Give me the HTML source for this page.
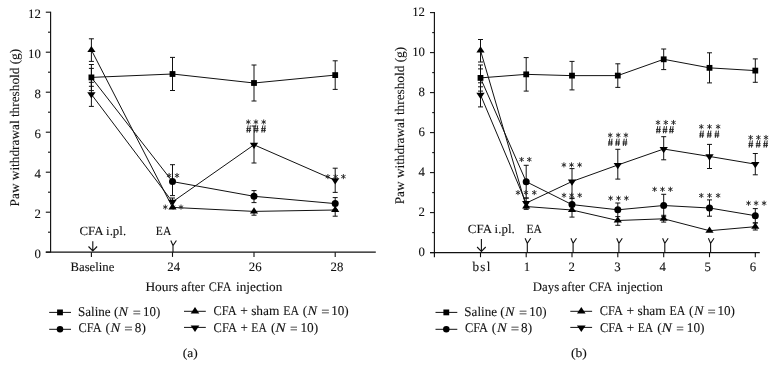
<!DOCTYPE html><html><head><meta charset="utf-8"><style>html,body{margin:0;padding:0;background:#fff;}svg{display:block;filter:grayscale(1);}text{text-rendering:geometricPrecision;font-family:"Liberation Serif",serif;fill:#111;stroke:#111;stroke-width:0.1px;}</style></head><body>
<svg width="776" height="368" viewBox="0 0 776 368">
<rect width="776" height="368" fill="#fff"/>
<line x1="50.60" y1="11.70" x2="50.60" y2="252.20" stroke="#111" stroke-width="1.15"/>
<line x1="45.80" y1="252.20" x2="50.60" y2="252.20" stroke="#111" stroke-width="1.1"/>
<line x1="48.00" y1="232.20" x2="50.60" y2="232.20" stroke="#111" stroke-width="1.1"/>
<line x1="45.80" y1="212.20" x2="50.60" y2="212.20" stroke="#111" stroke-width="1.1"/>
<line x1="48.00" y1="192.20" x2="50.60" y2="192.20" stroke="#111" stroke-width="1.1"/>
<line x1="45.80" y1="172.20" x2="50.60" y2="172.20" stroke="#111" stroke-width="1.1"/>
<line x1="48.00" y1="152.20" x2="50.60" y2="152.20" stroke="#111" stroke-width="1.1"/>
<line x1="45.80" y1="132.20" x2="50.60" y2="132.20" stroke="#111" stroke-width="1.1"/>
<line x1="48.00" y1="112.20" x2="50.60" y2="112.20" stroke="#111" stroke-width="1.1"/>
<line x1="45.80" y1="92.20" x2="50.60" y2="92.20" stroke="#111" stroke-width="1.1"/>
<line x1="48.00" y1="72.20" x2="50.60" y2="72.20" stroke="#111" stroke-width="1.1"/>
<line x1="45.80" y1="52.20" x2="50.60" y2="52.20" stroke="#111" stroke-width="1.1"/>
<line x1="48.00" y1="32.20" x2="50.60" y2="32.20" stroke="#111" stroke-width="1.1"/>
<line x1="45.80" y1="12.20" x2="50.60" y2="12.20" stroke="#111" stroke-width="1.1"/>
<text x="40.80" y="257.70" font-size="12.8" text-anchor="end">0</text>
<text x="40.80" y="217.70" font-size="12.8" text-anchor="end">2</text>
<text x="40.80" y="177.70" font-size="12.8" text-anchor="end">4</text>
<text x="40.80" y="137.70" font-size="12.8" text-anchor="end">6</text>
<text x="40.80" y="97.70" font-size="12.8" text-anchor="end">8</text>
<text x="40.80" y="57.70" font-size="12.8" text-anchor="end">10</text>
<text x="40.80" y="17.70" font-size="12.8" text-anchor="end">12</text>
<line x1="45.80" y1="252.20" x2="375.80" y2="252.20" stroke="#111" stroke-width="1.2"/>
<line x1="91.40" y1="252.20" x2="91.40" y2="256.90" stroke="#111" stroke-width="1.1"/>
<line x1="172.50" y1="252.20" x2="172.50" y2="256.90" stroke="#111" stroke-width="1.1"/>
<line x1="254.00" y1="252.20" x2="254.00" y2="256.90" stroke="#111" stroke-width="1.1"/>
<line x1="335.20" y1="252.20" x2="335.20" y2="256.90" stroke="#111" stroke-width="1.1"/>
<text x="70.53" y="271.40" font-size="12.8" textLength="43.81" lengthAdjust="spacingAndGlyphs">Baseline</text>
<text x="173.70" y="271.40" font-size="12.8" text-anchor="middle">24</text>
<text x="255.20" y="271.40" font-size="12.8" text-anchor="middle">26</text>
<text x="337.00" y="271.40" font-size="12.8" text-anchor="middle">28</text>
<text x="145.41" y="291.30" font-size="13" textLength="32.87" lengthAdjust="spacingAndGlyphs">Hours</text>
<text x="181.25" y="291.30" font-size="13" textLength="23.46" lengthAdjust="spacingAndGlyphs">after</text>
<text x="208.72" y="291.30" font-size="13" textLength="22.66" lengthAdjust="spacingAndGlyphs">CFA</text>
<text x="236.12" y="291.30" font-size="13" textLength="46.18" lengthAdjust="spacingAndGlyphs">injection</text>
<text transform="translate(18.6,127.6) rotate(-90)" font-size="13.2" text-anchor="middle" textLength="157.6" lengthAdjust="spacingAndGlyphs">Paw withdrawal threshold (g)</text>
<text x="79.49" y="234.80" font-size="12.5" textLength="46.63" lengthAdjust="spacingAndGlyphs">CFA i.pl.</text>
<text x="155.87" y="234.80" font-size="12.5" textLength="15.42" lengthAdjust="spacingAndGlyphs">EA</text>
<path d="M92.80,241.2 V251.0 M88.50,246.50 L92.80,251.0 L97.10,246.50" fill="none" stroke="#111" stroke-width="1.1"/>
<path d="M170.80,240.5 L173.00,245.5 L176.40,240.5 M173.00,245.5 V252.2" fill="none" stroke="#111" stroke-width="1.1"/>
<line x1="91.40" y1="68.40" x2="91.40" y2="86.30" stroke="#111" stroke-width="1.0"/>
<line x1="88.90" y1="68.40" x2="93.90" y2="68.40" stroke="#111" stroke-width="1.0"/>
<line x1="88.90" y1="86.30" x2="93.90" y2="86.30" stroke="#111" stroke-width="1.0"/>
<line x1="172.50" y1="57.40" x2="172.50" y2="90.50" stroke="#111" stroke-width="1.0"/>
<line x1="170.00" y1="57.40" x2="175.00" y2="57.40" stroke="#111" stroke-width="1.0"/>
<line x1="170.00" y1="90.50" x2="175.00" y2="90.50" stroke="#111" stroke-width="1.0"/>
<line x1="254.00" y1="65.00" x2="254.00" y2="101.00" stroke="#111" stroke-width="1.0"/>
<line x1="251.50" y1="65.00" x2="256.50" y2="65.00" stroke="#111" stroke-width="1.0"/>
<line x1="251.50" y1="101.00" x2="256.50" y2="101.00" stroke="#111" stroke-width="1.0"/>
<line x1="335.20" y1="60.80" x2="335.20" y2="89.40" stroke="#111" stroke-width="1.0"/>
<line x1="332.70" y1="60.80" x2="337.70" y2="60.80" stroke="#111" stroke-width="1.0"/>
<line x1="332.70" y1="89.40" x2="337.70" y2="89.40" stroke="#111" stroke-width="1.0"/>
<line x1="91.40" y1="64.50" x2="91.40" y2="90.60" stroke="#111" stroke-width="1.0"/>
<line x1="88.90" y1="64.50" x2="93.90" y2="64.50" stroke="#111" stroke-width="1.0"/>
<line x1="88.90" y1="90.60" x2="93.90" y2="90.60" stroke="#111" stroke-width="1.0"/>
<line x1="172.50" y1="164.70" x2="172.50" y2="195.60" stroke="#111" stroke-width="1.0"/>
<line x1="170.00" y1="164.70" x2="175.00" y2="164.70" stroke="#111" stroke-width="1.0"/>
<line x1="170.00" y1="195.60" x2="175.00" y2="195.60" stroke="#111" stroke-width="1.0"/>
<line x1="254.00" y1="190.60" x2="254.00" y2="202.60" stroke="#111" stroke-width="1.0"/>
<line x1="251.50" y1="190.60" x2="256.50" y2="190.60" stroke="#111" stroke-width="1.0"/>
<line x1="251.50" y1="202.60" x2="256.50" y2="202.60" stroke="#111" stroke-width="1.0"/>
<line x1="335.20" y1="197.60" x2="335.20" y2="209.60" stroke="#111" stroke-width="1.0"/>
<line x1="332.70" y1="197.60" x2="337.70" y2="197.60" stroke="#111" stroke-width="1.0"/>
<line x1="332.70" y1="209.60" x2="337.70" y2="209.60" stroke="#111" stroke-width="1.0"/>
<line x1="91.40" y1="38.80" x2="91.40" y2="61.40" stroke="#111" stroke-width="1.0"/>
<line x1="88.90" y1="38.80" x2="93.90" y2="38.80" stroke="#111" stroke-width="1.0"/>
<line x1="88.90" y1="61.40" x2="93.90" y2="61.40" stroke="#111" stroke-width="1.0"/>
<line x1="254.00" y1="211.40" x2="254.00" y2="215.20" stroke="#111" stroke-width="1.0"/>
<line x1="251.50" y1="215.20" x2="256.50" y2="215.20" stroke="#111" stroke-width="1.0"/>
<line x1="335.20" y1="210.00" x2="335.20" y2="216.20" stroke="#111" stroke-width="1.0"/>
<line x1="332.70" y1="216.20" x2="337.70" y2="216.20" stroke="#111" stroke-width="1.0"/>
<line x1="91.40" y1="82.30" x2="91.40" y2="106.40" stroke="#111" stroke-width="1.0"/>
<line x1="88.90" y1="82.30" x2="93.90" y2="82.30" stroke="#111" stroke-width="1.0"/>
<line x1="88.90" y1="106.40" x2="93.90" y2="106.40" stroke="#111" stroke-width="1.0"/>
<line x1="172.50" y1="198.00" x2="172.50" y2="201.90" stroke="#111" stroke-width="1.0"/>
<line x1="170.00" y1="198.00" x2="175.00" y2="198.00" stroke="#111" stroke-width="1.0"/>
<line x1="254.00" y1="126.00" x2="254.00" y2="163.00" stroke="#111" stroke-width="1.0"/>
<line x1="251.50" y1="126.00" x2="256.50" y2="126.00" stroke="#111" stroke-width="1.0"/>
<line x1="251.50" y1="163.00" x2="256.50" y2="163.00" stroke="#111" stroke-width="1.0"/>
<line x1="335.20" y1="168.20" x2="335.20" y2="192.40" stroke="#111" stroke-width="1.0"/>
<line x1="332.70" y1="168.20" x2="337.70" y2="168.20" stroke="#111" stroke-width="1.0"/>
<line x1="332.70" y1="192.40" x2="337.70" y2="192.40" stroke="#111" stroke-width="1.0"/>
<polyline points="91.40,77.40 172.50,74.00 254.00,83.00 335.20,75.10" fill="none" stroke="#111" stroke-width="1.0" stroke-linejoin="round"/>
<polyline points="91.40,77.50 172.50,181.60 254.00,196.30 335.20,203.60" fill="none" stroke="#111" stroke-width="1.0" stroke-linejoin="round"/>
<polyline points="91.40,50.05 172.50,207.40 254.00,211.40 335.20,210.00" fill="none" stroke="#111" stroke-width="1.0" stroke-linejoin="round"/>
<polyline points="91.40,94.35 172.50,201.90 254.00,144.80 335.20,180.30" fill="none" stroke="#111" stroke-width="1.0" stroke-linejoin="round"/>
<path d="M169.10,177.65 L169.10,173.35 M167.24,176.57 L170.96,174.43 M170.96,176.57 L167.24,174.43 " stroke="#222" stroke-width="0.9" stroke-linecap="round" fill="none"/>
<path d="M177.00,177.65 L177.00,173.35 M175.14,176.57 L178.86,174.43 M178.86,176.57 L175.14,174.43 " stroke="#222" stroke-width="0.9" stroke-linecap="round" fill="none"/>
<path d="M165.30,209.25 L165.30,204.95 M163.44,208.17 L167.16,206.03 M167.16,208.17 L163.44,206.03 " stroke="#222" stroke-width="0.9" stroke-linecap="round" fill="none"/>
<path d="M173.10,209.25 L173.10,204.95 M171.24,208.17 L174.96,206.03 M174.96,208.17 L171.24,206.03 " stroke="#222" stroke-width="0.9" stroke-linecap="round" fill="none"/>
<path d="M181.00,209.25 L181.00,204.95 M179.14,208.17 L182.86,206.03 M182.86,208.17 L179.14,206.03 " stroke="#222" stroke-width="0.9" stroke-linecap="round" fill="none"/>
<path d="M248.30,124.15 L248.30,119.85 M246.44,123.08 L250.16,120.92 M250.16,123.08 L246.44,120.92 " stroke="#222" stroke-width="0.9" stroke-linecap="round" fill="none"/>
<path d="M255.90,124.15 L255.90,119.85 M254.04,123.08 L257.76,120.92 M257.76,123.08 L254.04,120.92 " stroke="#222" stroke-width="0.9" stroke-linecap="round" fill="none"/>
<path d="M263.70,124.15 L263.70,119.85 M261.84,123.08 L265.56,120.92 M265.56,123.08 L261.84,120.92 " stroke="#222" stroke-width="0.9" stroke-linecap="round" fill="none"/>
<path d="M248.00,125.40 L247.10,132.60 M250.30,125.40 L249.40,132.60 M246.30,128.70 H251.10 M246.30,130.60 H251.10" fill="none" stroke="#222" stroke-width="0.95"/>
<path d="M255.40,125.40 L254.50,132.60 M257.70,125.40 L256.80,132.60 M253.70,128.70 H258.50 M253.70,130.60 H258.50" fill="none" stroke="#222" stroke-width="0.95"/>
<path d="M262.80,125.40 L261.90,132.60 M265.10,125.40 L264.20,132.60 M261.10,128.70 H265.90 M261.10,130.60 H265.90" fill="none" stroke="#222" stroke-width="0.95"/>
<path d="M327.90,178.75 L327.90,174.45 M326.04,177.67 L329.76,175.53 M329.76,177.67 L326.04,175.53 " stroke="#222" stroke-width="0.9" stroke-linecap="round" fill="none"/>
<path d="M335.60,178.75 L335.60,174.45 M333.74,177.67 L337.46,175.53 M337.46,177.67 L333.74,175.53 " stroke="#222" stroke-width="0.9" stroke-linecap="round" fill="none"/>
<path d="M343.40,178.75 L343.40,174.45 M341.54,177.67 L345.26,175.53 M345.26,177.67 L341.54,175.53 " stroke="#222" stroke-width="0.9" stroke-linecap="round" fill="none"/>
<rect x="88.50" y="74.50" width="5.80" height="5.80" fill="#000"/>
<rect x="169.60" y="71.10" width="5.80" height="5.80" fill="#000"/>
<rect x="251.10" y="80.10" width="5.80" height="5.80" fill="#000"/>
<rect x="332.30" y="72.20" width="5.80" height="5.80" fill="#000"/>
<circle cx="172.50" cy="181.60" r="3.50" fill="#000"/>
<circle cx="254.00" cy="196.30" r="3.50" fill="#000"/>
<circle cx="335.20" cy="203.60" r="3.50" fill="#000"/>
<polygon points="91.40,45.92 95.50,52.12 87.30,52.12" fill="#000"/>
<polygon points="172.50,203.27 176.60,209.47 168.40,209.47" fill="#000"/>
<polygon points="254.00,207.27 258.10,213.47 249.90,213.47" fill="#000"/>
<polygon points="335.20,205.87 339.30,212.07 331.10,212.07" fill="#000"/>
<polygon points="87.25,92.25 95.55,92.25 91.40,98.55" fill="#000"/>
<polygon points="168.35,199.80 176.65,199.80 172.50,206.10" fill="#000"/>
<polygon points="249.85,142.70 258.15,142.70 254.00,149.00" fill="#000"/>
<polygon points="331.05,178.20 339.35,178.20 335.20,184.50" fill="#000"/>
<line x1="434.40" y1="12.10" x2="434.40" y2="257.20" stroke="#111" stroke-width="1.15"/>
<line x1="430.00" y1="252.60" x2="434.40" y2="252.60" stroke="#111" stroke-width="1.1"/>
<line x1="432.20" y1="232.60" x2="434.40" y2="232.60" stroke="#111" stroke-width="1.1"/>
<line x1="430.00" y1="212.60" x2="434.40" y2="212.60" stroke="#111" stroke-width="1.1"/>
<line x1="432.20" y1="192.60" x2="434.40" y2="192.60" stroke="#111" stroke-width="1.1"/>
<line x1="430.00" y1="172.60" x2="434.40" y2="172.60" stroke="#111" stroke-width="1.1"/>
<line x1="432.20" y1="152.60" x2="434.40" y2="152.60" stroke="#111" stroke-width="1.1"/>
<line x1="430.00" y1="132.60" x2="434.40" y2="132.60" stroke="#111" stroke-width="1.1"/>
<line x1="432.20" y1="112.60" x2="434.40" y2="112.60" stroke="#111" stroke-width="1.1"/>
<line x1="430.00" y1="92.60" x2="434.40" y2="92.60" stroke="#111" stroke-width="1.1"/>
<line x1="432.20" y1="72.60" x2="434.40" y2="72.60" stroke="#111" stroke-width="1.1"/>
<line x1="430.00" y1="52.60" x2="434.40" y2="52.60" stroke="#111" stroke-width="1.1"/>
<line x1="432.20" y1="32.60" x2="434.40" y2="32.60" stroke="#111" stroke-width="1.1"/>
<line x1="430.00" y1="12.60" x2="434.40" y2="12.60" stroke="#111" stroke-width="1.1"/>
<text x="425.00" y="256.30" font-size="12.8" text-anchor="end">0</text>
<text x="425.00" y="216.30" font-size="12.8" text-anchor="end">2</text>
<text x="425.00" y="176.30" font-size="12.8" text-anchor="end">4</text>
<text x="425.00" y="136.30" font-size="12.8" text-anchor="end">6</text>
<text x="425.00" y="96.30" font-size="12.8" text-anchor="end">8</text>
<text x="425.00" y="56.30" font-size="12.8" text-anchor="end">10</text>
<text x="425.00" y="16.30" font-size="12.8" text-anchor="end">12</text>
<line x1="430.00" y1="252.60" x2="759.80" y2="252.60" stroke="#111" stroke-width="1.2"/>
<line x1="480.50" y1="252.60" x2="480.50" y2="257.20" stroke="#111" stroke-width="1.1"/>
<line x1="526.20" y1="252.60" x2="526.20" y2="257.20" stroke="#111" stroke-width="1.1"/>
<line x1="572.00" y1="252.60" x2="572.00" y2="257.20" stroke="#111" stroke-width="1.1"/>
<line x1="617.80" y1="252.60" x2="617.80" y2="257.20" stroke="#111" stroke-width="1.1"/>
<line x1="663.70" y1="252.60" x2="663.70" y2="257.20" stroke="#111" stroke-width="1.1"/>
<line x1="709.50" y1="252.60" x2="709.50" y2="257.20" stroke="#111" stroke-width="1.1"/>
<line x1="755.30" y1="252.60" x2="755.30" y2="257.20" stroke="#111" stroke-width="1.1"/>
<text x="482.00" y="271.00" font-size="13.2" text-anchor="middle" style="letter-spacing:1.2px">bsl</text>
<text x="526.90" y="271.00" font-size="12.8" text-anchor="middle">1</text>
<text x="571.70" y="271.00" font-size="12.8" text-anchor="middle">2</text>
<text x="617.40" y="271.00" font-size="12.8" text-anchor="middle">3</text>
<text x="662.70" y="271.00" font-size="12.8" text-anchor="middle">4</text>
<text x="707.80" y="271.00" font-size="12.8" text-anchor="middle">5</text>
<text x="753.00" y="271.00" font-size="12.8" text-anchor="middle">6</text>
<text x="532.83" y="291.20" font-size="13" textLength="26.33" lengthAdjust="spacingAndGlyphs">Days</text>
<text x="561.55" y="291.20" font-size="13" textLength="23.57" lengthAdjust="spacingAndGlyphs">after</text>
<text x="588.91" y="291.20" font-size="13" textLength="23.38" lengthAdjust="spacingAndGlyphs">CFA</text>
<text x="616.72" y="291.20" font-size="13" textLength="46.18" lengthAdjust="spacingAndGlyphs">injection</text>
<text transform="translate(404.2,125.6) rotate(-90)" font-size="13.2" text-anchor="middle" textLength="157.4" lengthAdjust="spacingAndGlyphs">Paw withdrawal threshold (g)</text>
<text x="467.89" y="232.70" font-size="12.5" textLength="46.84" lengthAdjust="spacingAndGlyphs">CFA i.pl.</text>
<text x="526.47" y="232.70" font-size="12.5" textLength="15.42" lengthAdjust="spacingAndGlyphs">EA</text>
<path d="M481.40,239.0 V251.5 M477.10,247.00 L481.40,251.5 L485.70,247.00" fill="none" stroke="#111" stroke-width="1.1"/>
<path d="M525.10,238.3 L527.30,243.3 L530.70,238.3 M527.30,243.3 V252.6" fill="none" stroke="#111" stroke-width="1.1"/>
<path d="M570.90,238.3 L573.10,243.3 L576.50,238.3 M573.10,243.3 V252.6" fill="none" stroke="#111" stroke-width="1.1"/>
<path d="M616.70,238.3 L618.90,243.3 L622.30,238.3 M618.90,243.3 V252.6" fill="none" stroke="#111" stroke-width="1.1"/>
<path d="M662.60,238.3 L664.80,243.3 L668.20,238.3 M664.80,243.3 V252.6" fill="none" stroke="#111" stroke-width="1.1"/>
<path d="M708.40,238.3 L710.60,243.3 L714.00,238.3 M710.60,243.3 V252.6" fill="none" stroke="#111" stroke-width="1.1"/>
<line x1="480.50" y1="68.90" x2="480.50" y2="86.80" stroke="#111" stroke-width="1.0"/>
<line x1="478.00" y1="68.90" x2="483.00" y2="68.90" stroke="#111" stroke-width="1.0"/>
<line x1="478.00" y1="86.80" x2="483.00" y2="86.80" stroke="#111" stroke-width="1.0"/>
<line x1="526.20" y1="57.60" x2="526.20" y2="91.10" stroke="#111" stroke-width="1.0"/>
<line x1="523.70" y1="57.60" x2="528.70" y2="57.60" stroke="#111" stroke-width="1.0"/>
<line x1="523.70" y1="91.10" x2="528.70" y2="91.10" stroke="#111" stroke-width="1.0"/>
<line x1="572.00" y1="61.40" x2="572.00" y2="89.90" stroke="#111" stroke-width="1.0"/>
<line x1="569.50" y1="61.40" x2="574.50" y2="61.40" stroke="#111" stroke-width="1.0"/>
<line x1="569.50" y1="89.90" x2="574.50" y2="89.90" stroke="#111" stroke-width="1.0"/>
<line x1="617.80" y1="63.80" x2="617.80" y2="87.40" stroke="#111" stroke-width="1.0"/>
<line x1="615.30" y1="63.80" x2="620.30" y2="63.80" stroke="#111" stroke-width="1.0"/>
<line x1="615.30" y1="87.40" x2="620.30" y2="87.40" stroke="#111" stroke-width="1.0"/>
<line x1="663.70" y1="49.00" x2="663.70" y2="69.60" stroke="#111" stroke-width="1.0"/>
<line x1="661.20" y1="49.00" x2="666.20" y2="49.00" stroke="#111" stroke-width="1.0"/>
<line x1="661.20" y1="69.60" x2="666.20" y2="69.60" stroke="#111" stroke-width="1.0"/>
<line x1="709.50" y1="52.80" x2="709.50" y2="82.90" stroke="#111" stroke-width="1.0"/>
<line x1="707.00" y1="52.80" x2="712.00" y2="52.80" stroke="#111" stroke-width="1.0"/>
<line x1="707.00" y1="82.90" x2="712.00" y2="82.90" stroke="#111" stroke-width="1.0"/>
<line x1="755.30" y1="58.90" x2="755.30" y2="82.30" stroke="#111" stroke-width="1.0"/>
<line x1="752.80" y1="58.90" x2="757.80" y2="58.90" stroke="#111" stroke-width="1.0"/>
<line x1="752.80" y1="82.30" x2="757.80" y2="82.30" stroke="#111" stroke-width="1.0"/>
<line x1="480.50" y1="65.00" x2="480.50" y2="91.10" stroke="#111" stroke-width="1.0"/>
<line x1="478.00" y1="65.00" x2="483.00" y2="65.00" stroke="#111" stroke-width="1.0"/>
<line x1="478.00" y1="91.10" x2="483.00" y2="91.10" stroke="#111" stroke-width="1.0"/>
<line x1="526.20" y1="165.30" x2="526.20" y2="198.10" stroke="#111" stroke-width="1.0"/>
<line x1="523.70" y1="165.30" x2="528.70" y2="165.30" stroke="#111" stroke-width="1.0"/>
<line x1="523.70" y1="198.10" x2="528.70" y2="198.10" stroke="#111" stroke-width="1.0"/>
<line x1="572.00" y1="198.60" x2="572.00" y2="210.60" stroke="#111" stroke-width="1.0"/>
<line x1="569.50" y1="198.60" x2="574.50" y2="198.60" stroke="#111" stroke-width="1.0"/>
<line x1="569.50" y1="210.60" x2="574.50" y2="210.60" stroke="#111" stroke-width="1.0"/>
<line x1="617.80" y1="203.00" x2="617.80" y2="216.60" stroke="#111" stroke-width="1.0"/>
<line x1="615.30" y1="203.00" x2="620.30" y2="203.00" stroke="#111" stroke-width="1.0"/>
<line x1="615.30" y1="216.60" x2="620.30" y2="216.60" stroke="#111" stroke-width="1.0"/>
<line x1="663.70" y1="194.30" x2="663.70" y2="216.70" stroke="#111" stroke-width="1.0"/>
<line x1="661.20" y1="194.30" x2="666.20" y2="194.30" stroke="#111" stroke-width="1.0"/>
<line x1="661.20" y1="216.70" x2="666.20" y2="216.70" stroke="#111" stroke-width="1.0"/>
<line x1="709.50" y1="199.90" x2="709.50" y2="216.20" stroke="#111" stroke-width="1.0"/>
<line x1="707.00" y1="199.90" x2="712.00" y2="199.90" stroke="#111" stroke-width="1.0"/>
<line x1="707.00" y1="216.20" x2="712.00" y2="216.20" stroke="#111" stroke-width="1.0"/>
<line x1="755.30" y1="208.60" x2="755.30" y2="222.80" stroke="#111" stroke-width="1.0"/>
<line x1="752.80" y1="208.60" x2="757.80" y2="208.60" stroke="#111" stroke-width="1.0"/>
<line x1="752.80" y1="222.80" x2="757.80" y2="222.80" stroke="#111" stroke-width="1.0"/>
<line x1="480.50" y1="39.50" x2="480.50" y2="62.00" stroke="#111" stroke-width="1.0"/>
<line x1="478.00" y1="39.50" x2="483.00" y2="39.50" stroke="#111" stroke-width="1.0"/>
<line x1="478.00" y1="62.00" x2="483.00" y2="62.00" stroke="#111" stroke-width="1.0"/>
<line x1="526.20" y1="203.00" x2="526.20" y2="209.40" stroke="#111" stroke-width="1.0"/>
<line x1="523.70" y1="203.00" x2="528.70" y2="203.00" stroke="#111" stroke-width="1.0"/>
<line x1="523.70" y1="209.40" x2="528.70" y2="209.40" stroke="#111" stroke-width="1.0"/>
<line x1="572.00" y1="210.00" x2="572.00" y2="217.10" stroke="#111" stroke-width="1.0"/>
<line x1="569.50" y1="217.10" x2="574.50" y2="217.10" stroke="#111" stroke-width="1.0"/>
<line x1="617.80" y1="220.50" x2="617.80" y2="225.30" stroke="#111" stroke-width="1.0"/>
<line x1="615.30" y1="225.30" x2="620.30" y2="225.30" stroke="#111" stroke-width="1.0"/>
<line x1="663.70" y1="215.30" x2="663.70" y2="222.10" stroke="#111" stroke-width="1.0"/>
<line x1="661.20" y1="215.30" x2="666.20" y2="215.30" stroke="#111" stroke-width="1.0"/>
<line x1="661.20" y1="222.10" x2="666.20" y2="222.10" stroke="#111" stroke-width="1.0"/>
<line x1="755.30" y1="223.00" x2="755.30" y2="230.00" stroke="#111" stroke-width="1.0"/>
<line x1="752.80" y1="223.00" x2="757.80" y2="223.00" stroke="#111" stroke-width="1.0"/>
<line x1="752.80" y1="230.00" x2="757.80" y2="230.00" stroke="#111" stroke-width="1.0"/>
<line x1="480.50" y1="82.80" x2="480.50" y2="106.90" stroke="#111" stroke-width="1.0"/>
<line x1="478.00" y1="82.80" x2="483.00" y2="82.80" stroke="#111" stroke-width="1.0"/>
<line x1="478.00" y1="106.90" x2="483.00" y2="106.90" stroke="#111" stroke-width="1.0"/>
<line x1="526.20" y1="198.00" x2="526.20" y2="208.00" stroke="#111" stroke-width="1.0"/>
<line x1="523.70" y1="198.00" x2="528.70" y2="198.00" stroke="#111" stroke-width="1.0"/>
<line x1="523.70" y1="208.00" x2="528.70" y2="208.00" stroke="#111" stroke-width="1.0"/>
<line x1="572.00" y1="168.60" x2="572.00" y2="198.00" stroke="#111" stroke-width="1.0"/>
<line x1="569.50" y1="168.60" x2="574.50" y2="168.60" stroke="#111" stroke-width="1.0"/>
<line x1="569.50" y1="198.00" x2="574.50" y2="198.00" stroke="#111" stroke-width="1.0"/>
<line x1="617.80" y1="149.30" x2="617.80" y2="179.10" stroke="#111" stroke-width="1.0"/>
<line x1="615.30" y1="149.30" x2="620.30" y2="149.30" stroke="#111" stroke-width="1.0"/>
<line x1="615.30" y1="179.10" x2="620.30" y2="179.10" stroke="#111" stroke-width="1.0"/>
<line x1="663.70" y1="136.70" x2="663.70" y2="159.80" stroke="#111" stroke-width="1.0"/>
<line x1="661.20" y1="136.70" x2="666.20" y2="136.70" stroke="#111" stroke-width="1.0"/>
<line x1="661.20" y1="159.80" x2="666.20" y2="159.80" stroke="#111" stroke-width="1.0"/>
<line x1="709.50" y1="144.40" x2="709.50" y2="168.50" stroke="#111" stroke-width="1.0"/>
<line x1="707.00" y1="144.40" x2="712.00" y2="144.40" stroke="#111" stroke-width="1.0"/>
<line x1="707.00" y1="168.50" x2="712.00" y2="168.50" stroke="#111" stroke-width="1.0"/>
<line x1="755.30" y1="153.50" x2="755.30" y2="174.80" stroke="#111" stroke-width="1.0"/>
<line x1="752.80" y1="153.50" x2="757.80" y2="153.50" stroke="#111" stroke-width="1.0"/>
<line x1="752.80" y1="174.80" x2="757.80" y2="174.80" stroke="#111" stroke-width="1.0"/>
<polyline points="480.50,77.90 526.20,74.35 572.00,75.65 617.80,75.60 663.70,59.30 709.50,67.85 755.30,70.60" fill="none" stroke="#111" stroke-width="1.0" stroke-linejoin="round"/>
<polyline points="480.50,78.00 526.20,181.70 572.00,204.60 617.80,209.80 663.70,205.50 709.50,208.00 755.30,215.70" fill="none" stroke="#111" stroke-width="1.0" stroke-linejoin="round"/>
<polyline points="480.50,50.50 526.20,206.50 572.00,210.00 617.80,220.50 663.70,218.80 709.50,230.70 755.30,226.70" fill="none" stroke="#111" stroke-width="1.0" stroke-linejoin="round"/>
<polyline points="480.50,94.85 526.20,203.10 572.00,181.50 617.80,165.00 663.70,149.00 709.50,156.45 755.30,164.15" fill="none" stroke="#111" stroke-width="1.0" stroke-linejoin="round"/>
<path d="M521.60,161.65 L521.60,157.35 M519.74,160.57 L523.46,158.43 M523.46,160.57 L519.74,158.43 " stroke="#222" stroke-width="0.9" stroke-linecap="round" fill="none"/>
<path d="M529.30,161.65 L529.30,157.35 M527.44,160.57 L531.16,158.43 M531.16,160.57 L527.44,158.43 " stroke="#222" stroke-width="0.9" stroke-linecap="round" fill="none"/>
<path d="M518.00,194.75 L518.00,190.45 M516.14,193.67 L519.86,191.53 M519.86,193.67 L516.14,191.53 " stroke="#222" stroke-width="0.9" stroke-linecap="round" fill="none"/>
<path d="M525.90,194.75 L525.90,190.45 M524.04,193.67 L527.76,191.53 M527.76,193.67 L524.04,191.53 " stroke="#222" stroke-width="0.9" stroke-linecap="round" fill="none"/>
<path d="M534.30,194.75 L534.30,190.45 M532.44,193.67 L536.16,191.53 M536.16,193.67 L532.44,191.53 " stroke="#222" stroke-width="0.9" stroke-linecap="round" fill="none"/>
<path d="M563.90,167.05 L563.90,162.75 M562.04,165.97 L565.76,163.83 M565.76,165.97 L562.04,163.83 " stroke="#222" stroke-width="0.9" stroke-linecap="round" fill="none"/>
<path d="M571.50,167.05 L571.50,162.75 M569.64,165.97 L573.36,163.83 M573.36,165.97 L569.64,163.83 " stroke="#222" stroke-width="0.9" stroke-linecap="round" fill="none"/>
<path d="M579.60,167.05 L579.60,162.75 M577.74,165.97 L581.46,163.83 M581.46,165.97 L577.74,163.83 " stroke="#222" stroke-width="0.9" stroke-linecap="round" fill="none"/>
<path d="M564.00,197.45 L564.00,193.15 M562.14,196.38 L565.86,194.23 M565.86,196.38 L562.14,194.23 " stroke="#222" stroke-width="0.9" stroke-linecap="round" fill="none"/>
<path d="M571.60,197.45 L571.60,193.15 M569.74,196.38 L573.46,194.23 M573.46,196.38 L569.74,194.23 " stroke="#222" stroke-width="0.9" stroke-linecap="round" fill="none"/>
<path d="M579.70,197.45 L579.70,193.15 M577.84,196.38 L581.56,194.23 M581.56,196.38 L577.84,194.23 " stroke="#222" stroke-width="0.9" stroke-linecap="round" fill="none"/>
<path d="M610.20,137.35 L610.20,133.05 M608.34,136.27 L612.06,134.12 M612.06,136.27 L608.34,134.12 " stroke="#222" stroke-width="0.9" stroke-linecap="round" fill="none"/>
<path d="M618.20,137.35 L618.20,133.05 M616.34,136.27 L620.06,134.12 M620.06,136.27 L616.34,134.12 " stroke="#222" stroke-width="0.9" stroke-linecap="round" fill="none"/>
<path d="M625.90,137.35 L625.90,133.05 M624.04,136.27 L627.76,134.12 M627.76,136.27 L624.04,134.12 " stroke="#222" stroke-width="0.9" stroke-linecap="round" fill="none"/>
<path d="M609.70,138.70 L608.80,145.90 M612.00,138.70 L611.10,145.90 M608.00,142.00 H612.80 M608.00,143.90 H612.80" fill="none" stroke="#222" stroke-width="0.95"/>
<path d="M616.90,138.70 L616.00,145.90 M619.20,138.70 L618.30,145.90 M615.20,142.00 H620.00 M615.20,143.90 H620.00" fill="none" stroke="#222" stroke-width="0.95"/>
<path d="M624.20,138.70 L623.30,145.90 M626.50,138.70 L625.60,145.90 M622.50,142.00 H627.30 M622.50,143.90 H627.30" fill="none" stroke="#222" stroke-width="0.95"/>
<path d="M610.60,200.35 L610.60,196.05 M608.74,199.27 L612.46,197.12 M612.46,199.27 L608.74,197.12 " stroke="#222" stroke-width="0.9" stroke-linecap="round" fill="none"/>
<path d="M618.50,200.35 L618.50,196.05 M616.64,199.27 L620.36,197.12 M620.36,199.27 L616.64,197.12 " stroke="#222" stroke-width="0.9" stroke-linecap="round" fill="none"/>
<path d="M626.40,200.35 L626.40,196.05 M624.54,199.27 L628.26,197.12 M628.26,199.27 L624.54,197.12 " stroke="#222" stroke-width="0.9" stroke-linecap="round" fill="none"/>
<path d="M658.00,124.65 L658.00,120.35 M656.14,123.58 L659.86,121.42 M659.86,123.58 L656.14,121.42 " stroke="#222" stroke-width="0.9" stroke-linecap="round" fill="none"/>
<path d="M665.80,124.65 L665.80,120.35 M663.94,123.58 L667.66,121.42 M667.66,123.58 L663.94,121.42 " stroke="#222" stroke-width="0.9" stroke-linecap="round" fill="none"/>
<path d="M673.50,124.65 L673.50,120.35 M671.64,123.58 L675.36,121.42 M675.36,123.58 L671.64,121.42 " stroke="#222" stroke-width="0.9" stroke-linecap="round" fill="none"/>
<path d="M657.70,126.10 L656.80,133.30 M660.00,126.10 L659.10,133.30 M656.00,129.40 H660.80 M656.00,131.30 H660.80" fill="none" stroke="#222" stroke-width="0.95"/>
<path d="M664.30,126.10 L663.40,133.30 M666.60,126.10 L665.70,133.30 M662.60,129.40 H667.40 M662.60,131.30 H667.40" fill="none" stroke="#222" stroke-width="0.95"/>
<path d="M670.80,126.10 L669.90,133.30 M673.10,126.10 L672.20,133.30 M669.10,129.40 H673.90 M669.10,131.30 H673.90" fill="none" stroke="#222" stroke-width="0.95"/>
<path d="M654.60,191.45 L654.60,187.15 M652.74,190.38 L656.46,188.23 M656.46,190.38 L652.74,188.23 " stroke="#222" stroke-width="0.9" stroke-linecap="round" fill="none"/>
<path d="M662.50,191.45 L662.50,187.15 M660.64,190.38 L664.36,188.23 M664.36,190.38 L660.64,188.23 " stroke="#222" stroke-width="0.9" stroke-linecap="round" fill="none"/>
<path d="M670.40,191.45 L670.40,187.15 M668.54,190.38 L672.26,188.23 M672.26,190.38 L668.54,188.23 " stroke="#222" stroke-width="0.9" stroke-linecap="round" fill="none"/>
<path d="M701.30,128.85 L701.30,124.55 M699.44,127.78 L703.16,125.62 M703.16,127.78 L699.44,125.62 " stroke="#222" stroke-width="0.9" stroke-linecap="round" fill="none"/>
<path d="M709.50,128.85 L709.50,124.55 M707.64,127.78 L711.36,125.62 M711.36,127.78 L707.64,125.62 " stroke="#222" stroke-width="0.9" stroke-linecap="round" fill="none"/>
<path d="M718.10,128.85 L718.10,124.55 M716.24,127.78 L719.96,125.62 M719.96,127.78 L716.24,125.62 " stroke="#222" stroke-width="0.9" stroke-linecap="round" fill="none"/>
<path d="M701.00,130.60 L700.10,137.80 M703.30,130.60 L702.40,137.80 M699.30,133.90 H704.10 M699.30,135.80 H704.10" fill="none" stroke="#222" stroke-width="0.95"/>
<path d="M708.60,130.60 L707.70,137.80 M710.90,130.60 L710.00,137.80 M706.90,133.90 H711.70 M706.90,135.80 H711.70" fill="none" stroke="#222" stroke-width="0.95"/>
<path d="M716.20,130.60 L715.30,137.80 M718.50,130.60 L717.60,137.80 M714.50,133.90 H719.30 M714.50,135.80 H719.30" fill="none" stroke="#222" stroke-width="0.95"/>
<path d="M701.30,197.65 L701.30,193.35 M699.44,196.57 L703.16,194.43 M703.16,196.57 L699.44,194.43 " stroke="#222" stroke-width="0.9" stroke-linecap="round" fill="none"/>
<path d="M709.50,197.65 L709.50,193.35 M707.64,196.57 L711.36,194.43 M711.36,196.57 L707.64,194.43 " stroke="#222" stroke-width="0.9" stroke-linecap="round" fill="none"/>
<path d="M718.10,197.65 L718.10,193.35 M716.24,196.57 L719.96,194.43 M719.96,196.57 L716.24,194.43 " stroke="#222" stroke-width="0.9" stroke-linecap="round" fill="none"/>
<path d="M750.60,139.65 L750.60,135.35 M748.74,138.57 L752.46,136.43 M752.46,138.57 L748.74,136.43 " stroke="#222" stroke-width="0.9" stroke-linecap="round" fill="none"/>
<path d="M758.40,139.65 L758.40,135.35 M756.54,138.57 L760.26,136.43 M760.26,138.57 L756.54,136.43 " stroke="#222" stroke-width="0.9" stroke-linecap="round" fill="none"/>
<path d="M766.00,139.65 L766.00,135.35 M764.14,138.57 L767.86,136.43 M767.86,138.57 L764.14,136.43 " stroke="#222" stroke-width="0.9" stroke-linecap="round" fill="none"/>
<path d="M750.10,140.40 L749.20,147.60 M752.40,140.40 L751.50,147.60 M748.40,143.70 H753.20 M748.40,145.60 H753.20" fill="none" stroke="#222" stroke-width="0.95"/>
<path d="M757.50,140.40 L756.60,147.60 M759.80,140.40 L758.90,147.60 M755.80,143.70 H760.60 M755.80,145.60 H760.60" fill="none" stroke="#222" stroke-width="0.95"/>
<path d="M764.90,140.40 L764.00,147.60 M767.20,140.40 L766.30,147.60 M763.20,143.70 H768.00 M763.20,145.60 H768.00" fill="none" stroke="#222" stroke-width="0.95"/>
<path d="M748.50,205.35 L748.50,201.05 M746.64,204.27 L750.36,202.12 M750.36,204.27 L746.64,202.12 " stroke="#222" stroke-width="0.9" stroke-linecap="round" fill="none"/>
<path d="M756.10,205.35 L756.10,201.05 M754.24,204.27 L757.96,202.12 M757.96,204.27 L754.24,202.12 " stroke="#222" stroke-width="0.9" stroke-linecap="round" fill="none"/>
<path d="M764.10,205.35 L764.10,201.05 M762.24,204.27 L765.96,202.12 M765.96,204.27 L762.24,202.12 " stroke="#222" stroke-width="0.9" stroke-linecap="round" fill="none"/>
<rect x="477.60" y="75.00" width="5.80" height="5.80" fill="#000"/>
<rect x="523.30" y="71.45" width="5.80" height="5.80" fill="#000"/>
<rect x="569.10" y="72.75" width="5.80" height="5.80" fill="#000"/>
<rect x="614.90" y="72.70" width="5.80" height="5.80" fill="#000"/>
<rect x="660.80" y="56.40" width="5.80" height="5.80" fill="#000"/>
<rect x="706.60" y="64.95" width="5.80" height="5.80" fill="#000"/>
<rect x="752.40" y="67.70" width="5.80" height="5.80" fill="#000"/>
<circle cx="526.20" cy="181.70" r="3.50" fill="#000"/>
<circle cx="572.00" cy="204.60" r="3.50" fill="#000"/>
<circle cx="617.80" cy="209.80" r="3.50" fill="#000"/>
<circle cx="663.70" cy="205.50" r="3.50" fill="#000"/>
<circle cx="709.50" cy="208.00" r="3.50" fill="#000"/>
<circle cx="755.30" cy="215.70" r="3.50" fill="#000"/>
<polygon points="480.50,46.37 484.60,52.57 476.40,52.57" fill="#000"/>
<polygon points="526.20,202.37 530.30,208.57 522.10,208.57" fill="#000"/>
<polygon points="572.00,205.87 576.10,212.07 567.90,212.07" fill="#000"/>
<polygon points="617.80,216.37 621.90,222.57 613.70,222.57" fill="#000"/>
<polygon points="663.70,214.67 667.80,220.87 659.60,220.87" fill="#000"/>
<polygon points="709.50,226.57 713.60,232.77 705.40,232.77" fill="#000"/>
<polygon points="755.30,222.57 759.40,228.77 751.20,228.77" fill="#000"/>
<polygon points="476.35,92.75 484.65,92.75 480.50,99.05" fill="#000"/>
<polygon points="522.05,201.00 530.35,201.00 526.20,207.30" fill="#000"/>
<polygon points="567.85,179.40 576.15,179.40 572.00,185.70" fill="#000"/>
<polygon points="613.65,162.90 621.95,162.90 617.80,169.20" fill="#000"/>
<polygon points="659.55,146.90 667.85,146.90 663.70,153.20" fill="#000"/>
<polygon points="705.35,154.35 713.65,154.35 709.50,160.65" fill="#000"/>
<polygon points="751.15,162.05 759.45,162.05 755.30,168.35" fill="#000"/>
<line x1="49.20" y1="312.40" x2="71.00" y2="312.40" stroke="#111" stroke-width="1.0"/>
<rect x="57.10" y="309.50" width="5.80" height="5.80" fill="#000"/>
<line x1="49.20" y1="329.30" x2="71.00" y2="329.30" stroke="#111" stroke-width="1.0"/>
<circle cx="60.00" cy="329.30" r="3.26" fill="#000"/>
<line x1="184.00" y1="311.30" x2="205.80" y2="311.30" stroke="#111" stroke-width="1.0"/>
<polygon points="195.00,306.96 199.31,313.47 190.69,313.47" fill="#000"/>
<line x1="184.00" y1="327.40" x2="205.80" y2="327.40" stroke="#111" stroke-width="1.0"/>
<polygon points="190.64,325.40 199.36,325.40 195.00,332.01" fill="#000"/>
<text x="78.03" y="316.00" font-size="13.4" textLength="32.63" lengthAdjust="spacingAndGlyphs">Saline</text>
<text x="114.01" y="316.00" font-size="13.4">(</text>
<text x="118.60" y="316.00" font-size="13.4" font-style="italic" textLength="9.53" lengthAdjust="spacingAndGlyphs">N</text>
<text x="132.68" y="317.00" font-size="13.4" textLength="8.12" lengthAdjust="spacingAndGlyphs">=</text>
<text x="143.07" y="316.00" font-size="13.4" textLength="17.20" lengthAdjust="spacingAndGlyphs">10)</text>
<text x="78.61" y="332.30" font-size="13.4" textLength="23.07" lengthAdjust="spacingAndGlyphs">CFA</text>
<text x="105.51" y="332.30" font-size="13.4">(</text>
<text x="110.61" y="332.30" font-size="13.4" font-style="italic" textLength="9.81" lengthAdjust="spacingAndGlyphs">N</text>
<text x="124.35" y="333.30" font-size="13.4" textLength="8.48" lengthAdjust="spacingAndGlyphs">=</text>
<text x="134.80" y="332.30" font-size="13.4" textLength="10.98" lengthAdjust="spacingAndGlyphs">8)</text>
<text x="213.51" y="315.20" font-size="13.4" textLength="23.07" lengthAdjust="spacingAndGlyphs">CFA</text>
<text x="240.33" y="315.20" font-size="13.4" textLength="7.64" lengthAdjust="spacingAndGlyphs">+</text>
<text x="251.15" y="315.20" font-size="13.4" textLength="28.26" lengthAdjust="spacingAndGlyphs">sham</text>
<text x="283.26" y="315.20" font-size="13.4" textLength="15.73" lengthAdjust="spacingAndGlyphs">EA</text>
<text x="302.71" y="315.20" font-size="13.4">(</text>
<text x="307.61" y="315.20" font-size="13.4" font-style="italic" textLength="9.62" lengthAdjust="spacingAndGlyphs">N</text>
<text x="321.17" y="316.20" font-size="13.4" textLength="8.24" lengthAdjust="spacingAndGlyphs">=</text>
<text x="331.14" y="315.20" font-size="13.4" textLength="17.53" lengthAdjust="spacingAndGlyphs">10)</text>
<text x="213.61" y="332.30" font-size="13.4" textLength="23.28" lengthAdjust="spacingAndGlyphs">CFA</text>
<text x="240.45" y="332.30" font-size="13.4" textLength="7.39" lengthAdjust="spacingAndGlyphs">+</text>
<text x="251.37" y="332.30" font-size="13.4" textLength="15.32" lengthAdjust="spacingAndGlyphs">EA</text>
<text x="270.91" y="332.30" font-size="13.4">(</text>
<text x="275.21" y="332.30" font-size="13.4" font-style="italic" textLength="10.46" lengthAdjust="spacingAndGlyphs">N</text>
<text x="290.03" y="333.30" font-size="13.4" textLength="7.64" lengthAdjust="spacingAndGlyphs">=</text>
<text x="300.43" y="332.30" font-size="13.4" textLength="17.76" lengthAdjust="spacingAndGlyphs">10)</text>
<line x1="435.50" y1="312.40" x2="457.30" y2="312.40" stroke="#111" stroke-width="1.0"/>
<rect x="443.40" y="309.50" width="5.80" height="5.80" fill="#000"/>
<line x1="435.50" y1="329.30" x2="457.30" y2="329.30" stroke="#111" stroke-width="1.0"/>
<circle cx="446.30" cy="329.30" r="3.26" fill="#000"/>
<line x1="570.30" y1="311.30" x2="592.10" y2="311.30" stroke="#111" stroke-width="1.0"/>
<polygon points="581.30,306.96 585.60,313.47 577.00,313.47" fill="#000"/>
<line x1="570.30" y1="327.40" x2="592.10" y2="327.40" stroke="#111" stroke-width="1.0"/>
<polygon points="576.94,325.40 585.66,325.40 581.30,332.01" fill="#000"/>
<text x="464.33" y="316.00" font-size="13.4" textLength="32.63" lengthAdjust="spacingAndGlyphs">Saline</text>
<text x="500.31" y="316.00" font-size="13.4">(</text>
<text x="504.90" y="316.00" font-size="13.4" font-style="italic" textLength="9.53" lengthAdjust="spacingAndGlyphs">N</text>
<text x="518.98" y="317.00" font-size="13.4" textLength="8.12" lengthAdjust="spacingAndGlyphs">=</text>
<text x="529.37" y="316.00" font-size="13.4" textLength="17.20" lengthAdjust="spacingAndGlyphs">10)</text>
<text x="464.91" y="332.30" font-size="13.4" textLength="23.07" lengthAdjust="spacingAndGlyphs">CFA</text>
<text x="491.81" y="332.30" font-size="13.4">(</text>
<text x="496.91" y="332.30" font-size="13.4" font-style="italic" textLength="9.81" lengthAdjust="spacingAndGlyphs">N</text>
<text x="510.65" y="333.30" font-size="13.4" textLength="8.48" lengthAdjust="spacingAndGlyphs">=</text>
<text x="521.10" y="332.30" font-size="13.4" textLength="10.98" lengthAdjust="spacingAndGlyphs">8)</text>
<text x="599.81" y="315.20" font-size="13.4" textLength="23.07" lengthAdjust="spacingAndGlyphs">CFA</text>
<text x="626.63" y="315.20" font-size="13.4" textLength="7.64" lengthAdjust="spacingAndGlyphs">+</text>
<text x="637.45" y="315.20" font-size="13.4" textLength="28.26" lengthAdjust="spacingAndGlyphs">sham</text>
<text x="669.56" y="315.20" font-size="13.4" textLength="15.73" lengthAdjust="spacingAndGlyphs">EA</text>
<text x="689.01" y="315.20" font-size="13.4">(</text>
<text x="693.91" y="315.20" font-size="13.4" font-style="italic" textLength="9.62" lengthAdjust="spacingAndGlyphs">N</text>
<text x="707.47" y="316.20" font-size="13.4" textLength="8.24" lengthAdjust="spacingAndGlyphs">=</text>
<text x="717.44" y="315.20" font-size="13.4" textLength="17.53" lengthAdjust="spacingAndGlyphs">10)</text>
<text x="599.91" y="332.30" font-size="13.4" textLength="23.28" lengthAdjust="spacingAndGlyphs">CFA</text>
<text x="626.75" y="332.30" font-size="13.4" textLength="7.39" lengthAdjust="spacingAndGlyphs">+</text>
<text x="637.67" y="332.30" font-size="13.4" textLength="15.32" lengthAdjust="spacingAndGlyphs">EA</text>
<text x="657.21" y="332.30" font-size="13.4">(</text>
<text x="661.51" y="332.30" font-size="13.4" font-style="italic" textLength="10.46" lengthAdjust="spacingAndGlyphs">N</text>
<text x="676.33" y="333.30" font-size="13.4" textLength="7.64" lengthAdjust="spacingAndGlyphs">=</text>
<text x="686.73" y="332.30" font-size="13.4" textLength="17.76" lengthAdjust="spacingAndGlyphs">10)</text>
<text x="182.81" y="357.40" font-size="12.5" textLength="14.99" lengthAdjust="spacingAndGlyphs">(a)</text>
<text x="571.00" y="357.40" font-size="12.5" textLength="15.90" lengthAdjust="spacingAndGlyphs">(b)</text>
</svg></body></html>
